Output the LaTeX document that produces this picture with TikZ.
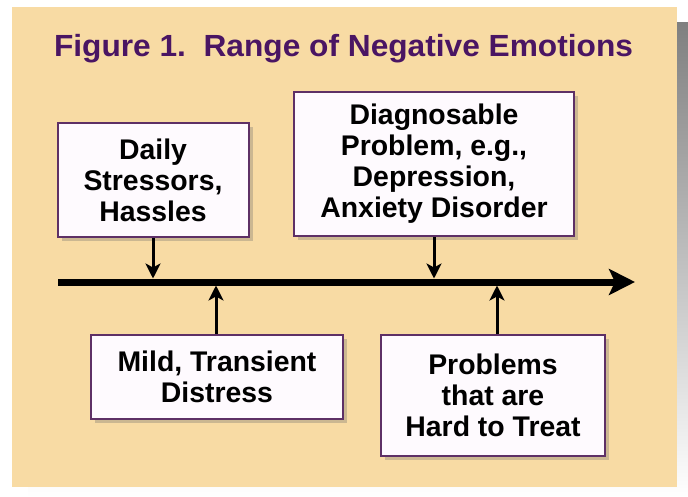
\documentclass[tikz,border=0pt]{standalone}
\usepackage{fontspec}
\usepackage{graphicx}
\setmainfont{Liberation Sans}
\usetikzlibrary{arrows.meta,shadows}
\definecolor{panel}{HTML}{F8DBA4}
\definecolor{shade}{HTML}{C0C0C0}
\definecolor{frame}{HTML}{5E3066}
\definecolor{titlec}{HTML}{4A1563}
\definecolor{boxfill}{HTML}{FEFAFE}
\tikzset{
  textbox/.style={draw=frame, line width=2pt, fill=boxfill, inner sep=0pt,
    align=center, font=\fontsize{28.4}{31}\bfseries\selectfont,
    drop shadow={shadow xshift=4pt, shadow yshift=-4pt, opacity=0.3, fill=black!60}},
  link/.style={line width=3pt, -{Stealth[length=15pt,width=15pt,inset=4pt]}},
  axisline/.style={line width=7pt, -{Stealth[length=26pt,width=26pt,inset=6pt]}}
}
\begin{document}
\begin{tikzpicture}[x=1pt,y=-1pt]
\useasboundingbox (0,0) rectangle (688,497);
% background panel with shadow
\fill[shade] (28,23) rectangle (688,497);
\fill[panel] (12,7) rectangle (677,487);
% title
\node[font=\fontsize{30.6}{34}\bfseries\selectfont, text=titlec, anchor=base, inner sep=0pt] (title) at (343.5,57) {\scalebox{1.035}[1]{Figure 1.\ \ Range of Negative Emotions}};
% boxes
\node[textbox, minimum width=191pt, minimum height=114pt] (daily) at (153,180) {Daily\\Stressors,\\Hassles};
\node[textbox, minimum width=280pt, minimum height=144pt] (diag) at (434,164) {Diagnosable\\Problem, e.g.,\\Depression,\\Anxiety Disorder};
\node[textbox, minimum width=252pt, minimum height=84pt] (mild) at (217,377) {Mild, Transient\\Distress};
\node[textbox, minimum width=224pt, minimum height=121pt] (hard) at (493,395.5) {Problems\\that are\\Hard to Treat};
% axis
\coordinate (axL) at (58,282);
\coordinate (axR) at (635,282);
\draw[axisline] (axL) -- (axR);
% connectors
\coordinate (tD) at (153,278.5);
\coordinate (tG) at (434,278.5);
\coordinate (tM) at (216,285.5);
\coordinate (tH) at (497,285.5);
\draw[link] (daily.south) -- (tD);
\draw[link] (diag.south) -- (tG);
\draw[link] (mild.north -| tM) -- (tM);
\draw[link] (hard.north -| tH) -- (tH);
\end{tikzpicture}
\end{document}
